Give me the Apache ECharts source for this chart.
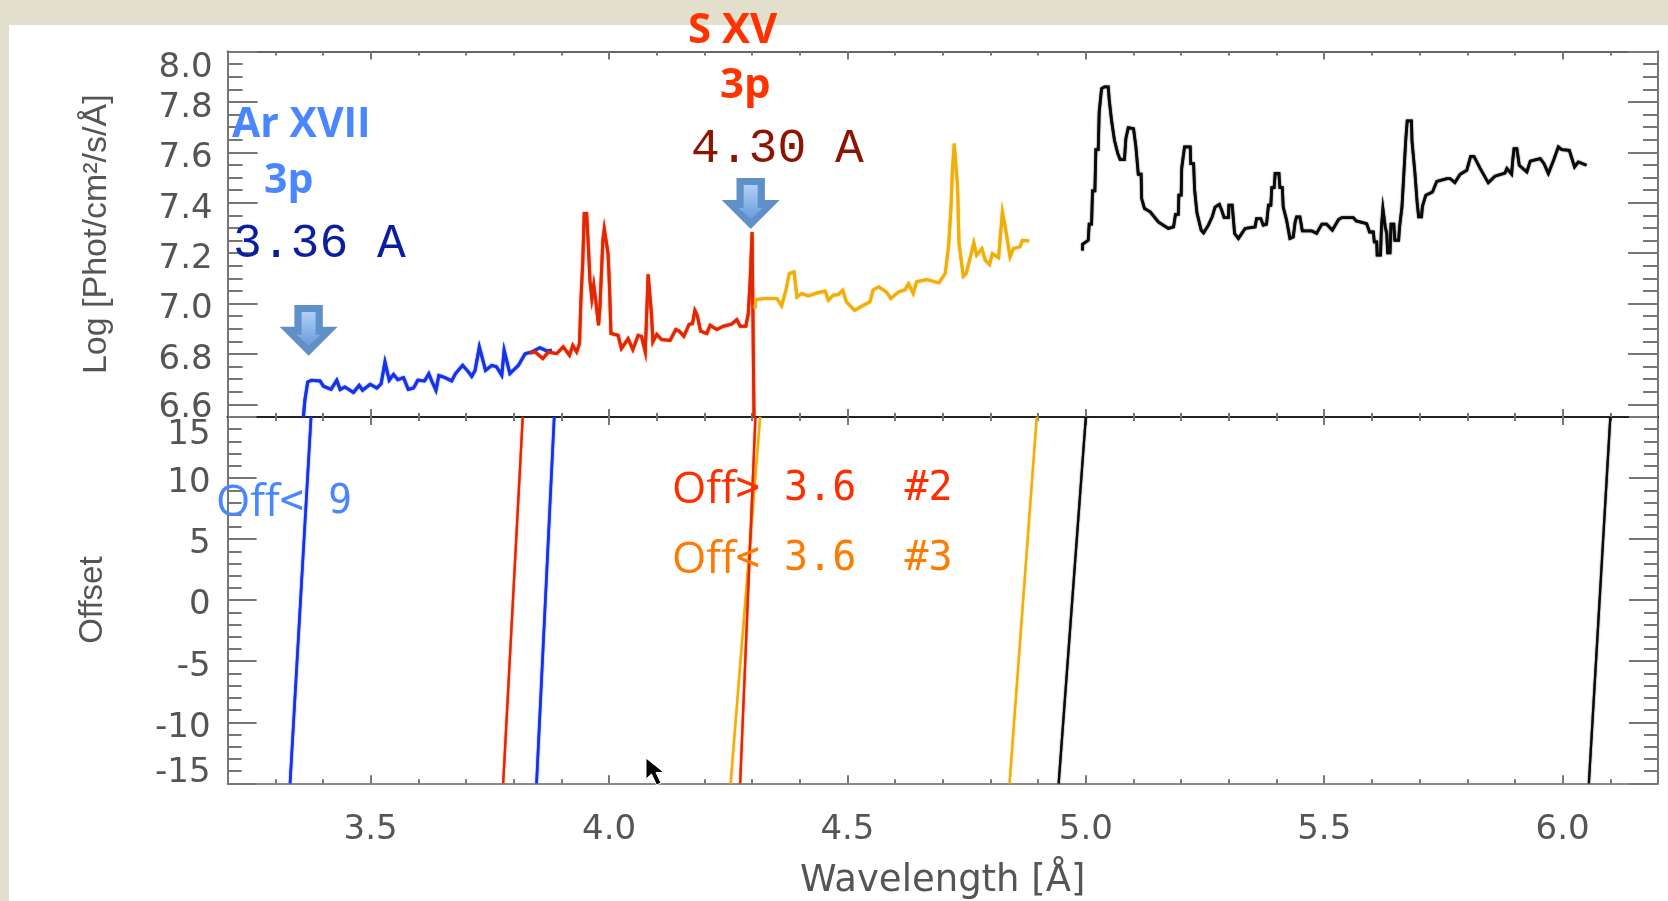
<!DOCTYPE html>
<html><head><meta charset="utf-8">
<style>html,body{margin:0;padding:0;background:#fff}#c{width:1668px;height:901px}</style>
<script src="https://cdn.jsdelivr.net/npm/echarts@6/dist/echarts.min.js"></script>
</head><body><div id="c"></div>
<script>
const xMajorTicks=[3.5,4.0,4.5,5.0,5.5,6.0];
const logMajorTicks=[6.6,6.8,7.0,7.2,7.4,7.6,7.8,8.0];
const logMinorTicks=[6.6,6.65,6.7,6.75,6.8,6.85,6.9,6.95,7.0,7.05,7.1,7.15,7.2,7.25,7.3,7.35,7.4,7.45,7.5,7.55,7.6,7.65,7.7,7.75,7.8,7.85,7.9,7.95];

const blueWave=[3.359,3.362,3.368,3.376,3.394,3.401,3.417,3.429,3.436,3.446,3.464,3.476,3.483,3.499,3.513,3.522,3.530,3.539,3.548,3.557,3.569,3.579,3.590,3.599,3.613,3.622,3.629,3.637,3.643,3.656,3.670,3.678,3.693,3.705,3.712,3.719,3.728,3.741,3.754,3.764,3.775,3.780,3.792,3.810,3.824,3.838,3.855,3.869,3.880];
const blueLog=[6.55,6.616,6.689,6.696,6.693,6.672,6.660,6.696,6.659,6.669,6.647,6.676,6.656,6.680,6.665,6.682,6.768,6.696,6.719,6.698,6.706,6.659,6.665,6.696,6.693,6.722,6.689,6.656,6.715,6.706,6.693,6.722,6.755,6.729,6.711,6.735,6.828,6.735,6.755,6.749,6.715,6.815,6.722,6.755,6.801,6.808,6.825,6.812,6.815];

const redWave=[3.834,3.845,3.861,3.873,3.890,3.904,3.917,3.924,3.932,3.938,3.941,3.945,3.948,3.953,3.957,3.960,3.964,3.968,3.972,3.978,3.981,3.987,3.990,3.994,3.998,4.001,4.004,4.019,4.026,4.040,4.050,4.061,4.068,4.076,4.079,4.082,4.086,4.089,4.092,4.100,4.110,4.128,4.140,4.147,4.157,4.168,4.175,4.180,4.185,4.192,4.205,4.212,4.226,4.240,4.257,4.268,4.275,4.287,4.292,4.296,4.300,4.304,4.304];
const redLog=[6.804,6.808,6.782,6.808,6.801,6.828,6.795,6.834,6.808,6.841,7.013,7.172,7.357,7.357,7.212,7.092,7.020,7.073,7.013,6.914,6.987,7.251,7.297,7.297,7.198,7.066,6.881,6.874,6.821,6.861,6.817,6.874,6.870,6.808,6.960,7.116,7.116,6.960,6.848,6.878,6.857,6.854,6.897,6.891,6.870,6.918,6.920,6.973,6.953,6.891,6.881,6.914,6.897,6.910,6.918,6.936,6.910,6.910,6.960,7.092,7.284,7.284,6.55];

const orangeWave=[4.306,4.308,4.327,4.352,4.362,4.371,4.378,4.388,4.394,4.404,4.418,4.436,4.453,4.460,4.470,4.481,4.490,4.498,4.515,4.533,4.547,4.554,4.566,4.582,4.591,4.607,4.621,4.628,4.638,4.645,4.666,4.692,4.705,4.712,4.717,4.720,4.724,4.727,4.731,4.734,4.743,4.749,4.757,4.765,4.771,4.782,4.789,4.798,4.804,4.817,4.825,4.831,4.841,4.848,4.862,4.867,4.881];
const orangeLog=[6.980,7.016,7.020,7.020,6.991,7.053,7.119,7.126,7.026,7.040,7.030,7.042,7.050,7.013,7.033,7.036,7.053,7.006,6.973,6.993,7.006,7.055,7.066,7.046,7.020,7.046,7.055,7.079,7.040,7.086,7.095,7.082,7.119,7.225,7.373,7.522,7.635,7.635,7.463,7.238,7.108,7.119,7.178,7.241,7.192,7.218,7.172,7.155,7.198,7.182,7.364,7.304,7.185,7.218,7.225,7.251,7.248];

const blackWave=[4.993,4.993,5.005,5.007,5.012,5.014,5.019,5.021,5.026,5.028,5.032,5.033,5.039,5.047,5.049,5.053,5.054,5.058,5.060,5.064,5.067,5.072,5.081,5.084,5.088,5.089,5.100,5.103,5.105,5.109,5.110,5.116,5.117,5.121,5.123,5.135,5.152,5.173,5.184,5.188,5.194,5.195,5.200,5.201,5.205,5.207,5.219,5.220,5.226,5.228,5.230,5.233,5.237,5.242,5.247,5.257,5.265,5.271,5.280,5.285,5.290,5.299,5.300,5.307,5.309,5.312,5.320,5.334,5.355,5.358,5.367,5.372,5.379,5.383,5.388,5.390,5.395,5.397,5.405,5.407,5.412,5.414,5.418,5.421,5.428,5.435,5.439,5.442,5.449,5.454,5.474,5.484,5.495,5.505,5.517,5.530,5.537,5.561,5.567,5.589,5.595,5.603,5.605,5.610,5.611,5.618,5.620,5.623,5.626,5.628,5.631,5.633,5.638,5.640,5.646,5.648,5.656,5.658,5.662,5.663,5.666,5.667,5.669,5.671,5.673,5.674,5.683,5.684,5.688,5.690,5.694,5.695,5.698,5.704,5.706,5.709,5.713,5.727,5.736,5.757,5.764,5.774,5.785,5.799,5.807,5.814,5.827,5.844,5.858,5.879,5.883,5.893,5.895,5.898,5.904,5.909,5.925,5.932,5.953,5.961,5.970,5.981,5.991,5.998,6.014,6.025,6.033,6.050];
const blackLog=[7.211,7.235,7.251,7.315,7.315,7.447,7.447,7.611,7.611,7.760,7.760,7.853,7.860,7.860,7.809,7.809,7.725,7.725,7.648,7.648,7.595,7.571,7.571,7.655,7.655,7.698,7.694,7.690,7.622,7.622,7.513,7.513,7.417,7.413,7.377,7.364,7.324,7.298,7.304,7.354,7.354,7.430,7.430,7.536,7.536,7.622,7.622,7.555,7.555,7.454,7.454,7.360,7.360,7.291,7.280,7.311,7.344,7.383,7.394,7.370,7.341,7.341,7.390,7.390,7.344,7.278,7.258,7.298,7.304,7.337,7.337,7.311,7.315,7.390,7.390,7.460,7.460,7.516,7.516,7.460,7.460,7.383,7.383,7.331,7.258,7.264,7.324,7.344,7.344,7.288,7.288,7.278,7.315,7.315,7.291,7.333,7.341,7.341,7.328,7.317,7.284,7.284,7.245,7.245,7.192,7.192,7.304,7.377,7.377,7.304,7.278,7.201,7.201,7.315,7.315,7.251,7.251,7.304,7.304,7.383,7.383,7.516,7.516,7.651,7.651,7.725,7.725,7.645,7.645,7.522,7.522,7.397,7.344,7.344,7.386,7.386,7.430,7.443,7.485,7.496,7.496,7.480,7.513,7.529,7.584,7.584,7.536,7.479,7.505,7.518,7.536,7.513,7.562,7.615,7.615,7.549,7.522,7.565,7.575,7.555,7.516,7.569,7.622,7.611,7.608,7.542,7.562,7.549];

const offsetEnds=[-15,15];
const offsetBlueA=[3.331,3.375];
const offsetBlueB=[3.848,3.885];
const offsetRedA=[3.778,3.819];
const offsetRedB=[4.275,4.307];
const offsetOrangeA=[4.255,4.317];
const offsetOrangeB=[4.840,4.897];
const offsetBlackA=[4.943,5.0];
const offsetBlackB=[6.055,6.10];

const BLUE='#1433E6',RED='#E02800',ORANGE='#F0AE0A',BLACK='#0a0a0a';
const GREY='#555555',TICK='#777777';
const FONT='"DejaVu Sans"';
const NAMEFONT='"Liberation Sans"';

const zip=(a,b)=>a.map((v,i)=>[v,b[i]]);
function line(name,x,y,ix,color,width){
  return {name,type:'line',xAxisIndex:ix,yAxisIndex:ix===0?0:4,data:zip(x,y),showSymbol:false,symbol:'none',
    lineStyle:{color,width,join:'miter',shadowBlur:1.5,shadowColor:color},silent:true,animation:false};
}
function xAx(grid,pos,labels){
  return {type:'value',gridIndex:grid,position:pos,min:3.2,max:6.2,interval:0.5,
    axisLine:{show:true,onZero:false,lineStyle:{color:pos==='bottom'&&grid===1?'#8a8a8a':(pos==='top'&&grid===0?'#666':'#222'),width:2}},
    axisTick:{show:true,inside:true,length:8,customValues:xMajorTicks,lineStyle:{color:TICK,width:2}},
    minorTick:{show:false},
    splitLine:{show:false},
    axisLabel:labels?{show:true,customValues:xMajorTicks,margin:30,color:GREY,fontFamily:FONT,fontSize:34,formatter:v=>v.toFixed(1)}:{show:false},
    ...(labels?{name:'Wavelength [Å]',nameLocation:'middle',nameGap:80,nameTextStyle:{color:GREY,fontFamily:FONT,fontSize:37}}:{})};
}
const xMinorTicks=[3.3,3.4,3.6,3.7,3.8,3.9,4.1,4.2,4.3,4.4,4.6,4.7,4.8,4.9,5.1,5.2,5.3,5.4,5.6,5.7,5.8,5.9,6.1];
function xMinor(grid,pos){
  return {type:'value',gridIndex:grid,position:pos,min:3.2,max:6.2,
    axisLine:{show:false,onZero:false},axisLabel:{show:false},splitLine:{show:false},
    axisTick:{show:true,inside:true,length:4,customValues:xMinorTicks,lineStyle:{color:TICK,width:2}}};
}
function yLog(pos,vals,len,labels){
  return {type:'value',gridIndex:0,position:pos,min:6.55,max:8.0,
    axisLine:{show:true,onZero:false,lineStyle:{color:'#777',width:2}},splitLine:{show:false},
    axisTick:{show:true,inside:true,length:len,customValues:vals,lineStyle:{color:TICK,width:2}},
    axisLabel:labels?{show:true,customValues:logMajorTicks,margin:15,color:GREY,fontFamily:FONT,fontSize:34,
      formatter:v=>{const s=v.toFixed(1);return s==='8.0'?'{a|'+s+'}':(s==='6.6'?'{c|'+s+'}':'{b|'+s+'}');},
      rich:{a:{padding:[34,0,0,0]},b:{padding:[12,0,0,0]},c:{padding:[8,0,0,0]}}}:{show:false},
    ...(labels?{name:'Log [Phot/cm²/s/Å]',nameLocation:'middle',nameRotate:90,nameGap:114,nameTextStyle:{color:GREY,fontFamily:NAMEFONT,fontSize:34}}:{})};
}
function yOff(pos,major,labels){
  return {type:'value',gridIndex:1,position:pos,min:-15,max:15,interval:5,
    axisLine:{show:true,onZero:false,lineStyle:{color:'#777',width:2}},splitLine:{show:false},
    axisTick:{show:true,inside:true,length:29,lineStyle:{color:TICK,width:2}},
    minorTick:{show:true,splitNumber:5,length:14,lineStyle:{color:TICK,width:2}},
    axisLabel:labels?{show:true,margin:17,color:GREY,fontFamily:FONT,fontSize:34,
      formatter:v=>v===15?'{a|15}':(v===-15?'{c|-15}':'{b|'+v+'}'),
      rich:{a:{padding:[36,0,0,0]},b:{padding:[11,0,0,0]},c:{padding:[0,0,20,0]}}}:{show:false},
    ...(labels?{name:'Offset',nameLocation:'middle',nameRotate:90,nameGap:118,nameTextStyle:{color:GREY,fontFamily:NAMEFONT,fontSize:33}}:{})};
}
function arrow(tipX,tipY,top){
  const sx=14.2,hx=29,hy=tipY-29;
  return [
   {type:'polygon',z:20,shape:{points:[[tipX-sx,top],[tipX+sx,top],[tipX+sx,hy],[tipX+hx,hy],[tipX,tipY],[tipX-hx,hy],[tipX-sx,hy]]},style:{fill:'#5F90C8'}},
   {type:'polygon',z:21,shape:{points:[[tipX-7,top+7],[tipX+7,top+7],[tipX+7,tipY-21],[tipX+12,tipY-21],[tipX,tipY-10],[tipX-12,tipY-21],[tipX-7,tipY-21]]},
    style:{fill:{type:'linear',x:0,y:0,x2:0,y2:1,colorStops:[{offset:0,color:'#AFCFFA'},{offset:1,color:'#6B9CD8'}]}}}
  ];
}
function label(text,x,y,font,size,weight,color){
  return {type:'text',z:30,x,y,style:{text,fill:color,fontFamily:font,fontSize:size,fontWeight:weight,textAlign:'left',textVerticalAlign:'middle',verticalAlign:'middle'}};
}
function offLabel(rest,x,y,color){
  return {type:'text',z:30,x,y,style:{text:'{o|Off}{m|'+rest+'}',textVerticalAlign:'middle',verticalAlign:'middle',fill:color,
    rich:{o:{fontFamily:'"Open Sans"',fontSize:44,fill:color},m:{fontFamily:'"DejaVu Sans Mono"',fontSize:40,fill:color}}}};
}
const chart=echarts.init(document.getElementById('c'),null,{renderer:'canvas'});
chart.setOption({
  animation:false,
  backgroundColor:'#E2DFCC',
  grid:[{left:227.6,right:10,top:51.5,height:365.5,containLabel:false,outerBoundsMode:'none'},{left:227.6,right:10,top:417,height:366.3,containLabel:false,outerBoundsMode:'none'}],
  xAxis:[xAx(0,'bottom',false),xAx(1,'bottom',true),xAx(0,'top',false),xAx(1,'top',false),
         xMinor(0,'bottom'),xMinor(0,'top'),xMinor(1,'bottom'),xMinor(1,'top')],
  yAxis:[yLog('left',logMajorTicks,30,true),yLog('left',logMinorTicks,15,false),yLog('right',logMajorTicks,30,false),yLog('right',logMinorTicks,15,false),
         yOff('left',true,true),yOff('right',true,false)],
  series:[
    line('Off < 9 spectrum',blueWave,blueLog,0,BLUE,3),
    line('Off > 3.6 #2 spectrum',redWave,redLog,0,RED,3),
    line('Off < 3.6 #3 spectrum',orangeWave,orangeLog,0,ORANGE,3),
    line('Black spectrum',blackWave,blackLog,0,BLACK,2.8),
    line('Off < 9 A',offsetBlueA,offsetEnds,1,BLUE,2.6),
    line('Off < 9 B',offsetBlueB,offsetEnds,1,BLUE,2.6),
    line('Off > 3.6 A',offsetRedA,offsetEnds,1,RED,2.2),
    line('Off < 3.6 A',offsetOrangeA,offsetEnds,1,ORANGE,2.2),
    line('Off > 3.6 B',offsetRedB,offsetEnds,1,RED,2.2),
    line('Off < 3.6 B',offsetOrangeB,offsetEnds,1,ORANGE,2.2),
    line('Black A',offsetBlackA,offsetEnds,1,BLACK,2.2),
    line('Black B',offsetBlackB,offsetEnds,1,BLACK,2.2)
  ],
  graphic:{elements:[
    {type:'rect',z:-100,shape:{x:9,y:25,width:1659,height:876},style:{fill:'#fff'}},
    ...arrow(308.6,355.7,305),
    ...arrow(750.7,229,178),
    label('Ar XVII',232,125,'"Open Sans"',41,700,'#4A86FF'),
    label('3p',264,181,'"Open Sans"',41,700,'#4A86FF'),
    label('3.36 A',233,244,'"Liberation Mono"',48,400,'#0A1FA0'),
    label('S XV',688,31,'"Open Sans"',42,700,'#FF3300'),
    label('3p',720,86,'"Open Sans"',42,700,'#FF3300'),
    label('4.30 A',691,149,'"Liberation Mono"',48,400,'#8B1500'),
    offLabel('< 9',216,503,'#4A86FF'),
    offLabel('> 3.6  #2',672,490,'#FF2E00'),
    offLabel('< 3.6  #3',672,560,'#FF7A00'),
    {type:'polygon',z:40,shape:{points:[[646,758],[646,779],[651.5,774],[656.5,785],[661,783],[656,772.5],[664,772.5]]},style:{fill:'#000',stroke:'#fff',lineWidth:1}}
  ]}
});
</script></body></html>
